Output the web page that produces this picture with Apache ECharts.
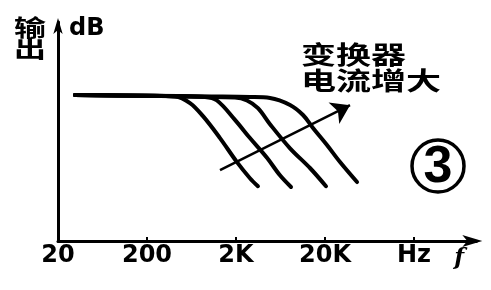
<!DOCTYPE html>
<html><head><meta charset="utf-8">
<script src="https://cdn.jsdelivr.net/npm/echarts@6/dist/echarts.min.js"></script>
<style>html,body{margin:0;padding:0;background:#fff}#c{width:491px;height:290px}</style>
</head><body><div id="c"></div>
<script>
// x tick labels, one per decade starting at 20 Hz
const tickLabels = ['20', '200', '2K', '20K', 'Hz'];
// response curves: [frequency Hz, level dB]
const curve1 = [[31,0],[200,-0.1],[413,-0.2],[608,-1.1],[852,-2.9],[1322,-5.9],[2052,-9.2],[2870,-11.4],[3530,-12.5]];
const curve2 = [[31,0],[200,-0.1],[500,-0.2],[897,-0.27],[1224,-0.75],[1948,-3.4],[2870,-5.9],[4457,-8.6],[6238,-11.0],[8300,-12.6]];
const curve3 = [[31,0],[200,-0.1],[800,-0.25],[1948,-0.34],[2658,-0.75],[3530,-1.8],[4820,-4.0],[8092,-7.3],[13560,-10.0],[20520,-12.5]];
const curve4 = [[31,0],[200,-0.1],[1000,-0.2],[2870,-0.27],[4820,-0.41],[8092,-1.37],[11320,-2.74],[14660,-4.52],[21040,-6.85],[29500,-9.18],[45820,-11.92]];
// arrow showing "converter current increases": [Hz, dB]
const arrowPts = [[1322,-10.3],[38200,-1.4]];

const toDec = f => Math.log10(f / 20);
const conv = arr => arr.map(p => [toDec(p[0]), p[1]]);

const chart = echarts.init(document.getElementById('c'), null, {renderer:'canvas'});
const lineSeries = [curve1, curve2, curve3, curve4].map((c, i) => ({
  type: 'line', name: 'c' + (i+1), data: conv(c), smooth: 0.35,
  showSymbol: false, symbol: 'none', silent: true,
  lineStyle: {color: '#000', width: 4, cap: 'round', join: 'round'}
}));

chart.setOption({
  backgroundColor: '#fff',
  animation: false,
  grid: {left: 58, right: 14.7, top: 22, bottom: 49, containLabel: false},
  xAxis: {
    type: 'value', min: 0, max: 4.7, interval: 1,
    name: 'f', nameLocation: 'end', nameGap: -17,
    nameTextStyle: {color: '#000', fontFamily: 'DejaVu Serif', fontWeight: 'bold', fontStyle: 'italic', fontSize: 23, align: 'center', verticalAlign: 'top', padding: [6,0,0,0]},
    axisLine: {onZero: false, lineStyle: {color: '#000', width: 3}, symbol: ['none','arrow'], symbolSize: [9, 20], symbolOffset: [0, 6]},
    axisTick: {show: true, inside: true, length: 4, lineStyle: {color: '#000', width: 2}},
    axisLabel: {color: '#000', fontFamily: 'DejaVu Sans', fontWeight: 'bold', fontSize: 24, margin: 3, showMaxLabel: false,
      formatter: v => Number.isInteger(Math.round(v*1000)/1000) ? (tickLabels[Math.round(v)] || '') : ''},
    splitLine: {show: false}
  },
  yAxis: {
    type: 'value', min: -20, max: 10,
    name: 'dB', nameLocation: 'end', nameGap: -7,
    nameTextStyle: {color: '#000', fontFamily: 'DejaVu Sans', fontWeight: 'bold', fontSize: 24, align: 'left', verticalAlign: 'middle', padding: [0,0,0,11]},
    axisLine: {show: true, lineStyle: {color: '#000', width: 3}, symbol: ['none','arrow'], symbolSize: [7, 16], symbolOffset: [0, 4]},
    axisTick: {show: false}, axisLabel: {show: false}, splitLine: {show: false}
  },
  graphic: [
    {type: 'text', x: 14, y: 16, scaleY: 0.72, silent: true,
     style: {text: '输\n出', fill: '#000', font: 'bold 32px "Noto Sans CJK SC"', lineHeight: 30, textAlign: 'left', textVerticalAlign: 'top'}},
    {type: 'text', x: 301, y: 41, scaleY: 0.7, silent: true,
     style: {text: '变换器\n电流增大', fill: '#000', font: 'bold 35px "Noto Sans CJK SC"', lineHeight: 38, textAlign: 'left', textVerticalAlign: 'top'}},
    {type: 'circle', shape: {cx: 438, cy: 166, r: 26}, silent: true, style: {fill: 'none', stroke: '#000', lineWidth: 3.5}},
    {type: 'text', x: 438, y: 168, silent: true,
     style: {text: '3', fill: '#000', font: 'bold 52px "Liberation Sans"', textAlign: 'center', textVerticalAlign: 'middle'}}
  ],
  series: lineSeries.concat([{
    type: 'lines', coordinateSystem: 'cartesian2d', silent: true,
    symbol: ['none', 'arrow'], symbolSize: [10, 18],
    lineStyle: {color: '#000', width: 2.5, opacity: 1, curveness: 0},
    data: [{coords: conv(arrowPts)}]
  }])
});
</script></body></html>
